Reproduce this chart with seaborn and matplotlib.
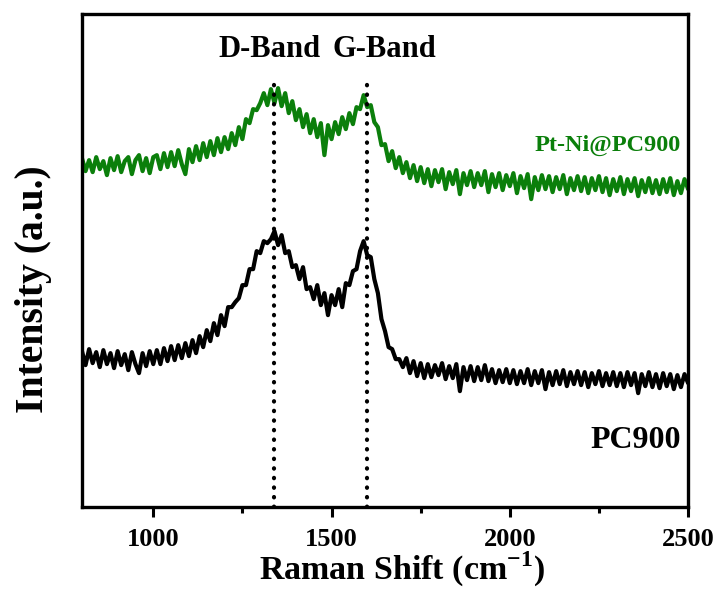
import numpy as np
import pandas as pd
import matplotlib
matplotlib.use('Agg')
import matplotlib.pyplot as plt
import seaborn as sns
from matplotlib.ticker import MultipleLocator, NullLocator

# Raman shift grid (cm-1), one reading every 10 cm-1
shift = np.arange(800, 2510, 10)

# Pt-Ni@PC900 (green), arbitrary units
ptni = [349, 336, 347, 335, 350, 338, 346, 332, 349, 337, 351, 335, 346, 350, 333, 347, 352, 336, 349, 334, 350,
        352, 338, 354, 340, 355, 341, 357, 343, 333, 358,
        345, 361, 347, 364, 350, 366, 352, 369, 355, 370,
        358, 374, 362, 380, 368, 388, 384, 398, 397, 404,
        414, 402, 418, 404, 419, 401, 414, 394, 406, 387,
        398, 380, 393, 374, 388, 370, 384, 352, 382, 368,
        385, 373, 390, 378, 394, 383, 400, 398, 412, 400,
        402, 385, 380, 362, 363, 346, 356, 339, 350, 334,
        345, 329, 342, 326, 340, 324, 338, 321, 337, 325,
        338, 318, 335, 323, 337, 313, 334, 322, 336, 320,
        334, 322, 336, 315, 333, 320, 334, 317, 332, 321,
        334, 314, 331, 319, 333, 308, 330, 317, 332, 318,
        331, 315, 330, 318, 332, 313, 329, 317, 331, 316,
        330, 314, 329, 317, 331, 315, 329, 312, 328, 316,
        330, 313, 328, 316, 329, 311, 327, 315, 329, 314,
        327, 313, 328, 315, 329, 312, 326, 314, 328, 318]

# PC900 (black)
pc = [156, 142, 158, 144, 155, 140, 157, 143, 154, 139, 156, 142, 153, 137, 155, 143, 134, 154, 141, 156, 143,
      157, 143, 159, 146, 161, 147, 162, 149, 164, 151,
      167, 154, 171, 160, 177, 166, 184, 172, 192, 181,
      200, 200, 205, 209, 222, 222, 238, 238, 256, 254,
      266, 264, 268, 276, 262, 272, 254, 256, 240, 242,
      228, 240, 218, 220, 208, 222, 202, 214, 192, 212,
      202, 218, 200, 224, 222, 236, 238, 256, 266, 252,
      250, 228, 214, 188, 176, 160, 158, 148, 148, 140,
      149, 134, 146, 131, 144, 129, 143, 130, 142, 132,
      144, 128, 141, 129, 143, 116, 140, 127, 141, 126,
      140, 127, 142, 126, 138, 124, 137, 125, 138, 124,
      137, 123, 136, 124, 138, 122, 136, 124, 137, 118,
      135, 122, 136, 123, 137, 121, 135, 123, 136, 122,
      135, 120, 134, 123, 136, 121, 134, 122, 135, 121,
      134, 120, 135, 122, 134, 114, 133, 121, 135, 120,
      133, 119, 134, 121, 133, 118, 132, 120, 133, 124]

bands = [1340, 1600]
band_names = ['D-Band', 'G-Band']

df = pd.DataFrame({'shift': np.concatenate([shift, shift]),
                   'intensity': ptni + pc,
                   'sample': ['Pt-Ni@PC900'] * len(shift) + ['PC900'] * len(shift)})

sns.set_style('ticks', {'text.color': 'black', 'axes.edgecolor': 'black',
                        'axes.labelcolor': 'black', 'xtick.color': 'black'})
plt.rcParams['font.family'] = ['Liberation Serif', 'DejaVu Serif']
plt.rcParams['font.weight'] = 'bold'
plt.rcParams['mathtext.fontset'] = 'custom'
plt.rcParams['mathtext.rm'] = 'Liberation Serif:bold'
plt.rcParams['mathtext.bf'] = 'Liberation Serif:bold'

fig = plt.figure(figsize=(7.19, 5.89), dpi=100)
ax = fig.add_axes([0.114, 0.139, 0.843, 0.837])

green = '#0b7f0b'
sns.lineplot(data=df, x='shift', y='intensity', hue='sample',
             palette={'Pt-Ni@PC900': green, 'PC900': 'black'},
             linewidth=3.0, legend=False, ax=ax)

for b in bands:
    ax.plot([b, b], [0, 429], color='black', lw=3.0,
            linestyle=(0, (0.1, 2.2)), dash_capstyle='round')

ax.text(1325, 458, band_names[0], ha='center', va='center', fontsize=22, fontweight='bold')
ax.text(1647, 458, band_names[1], ha='center', va='center', fontsize=22, fontweight='bold')
ax.text(2480, 362, 'Pt-Ni@PC900', ha='right', va='center', fontsize=17.5,
        fontweight='bold', color=green)
ax.text(2480, 67, 'PC900', ha='right', va='center', fontsize=23, fontweight='bold')

ax.set_xlim(800, 2500)
ax.set_ylim(0, 493)
ax.xaxis.set_major_locator(MultipleLocator(500))
ax.xaxis.set_minor_locator(MultipleLocator(250))
ax.yaxis.set_major_locator(NullLocator())
ax.tick_params(axis='x', which='major', direction='out', length=7, width=2.2,
               labelsize=19, pad=8)
ax.tick_params(axis='x', which='minor', direction='out', length=4.5, width=2.2)
for lab in ax.get_xticklabels():
    lab.set_fontweight('bold')
for sp in ax.spines.values():
    sp.set_linewidth(2.4)
    sp.set_visible(True)

ax.set_xlabel('Raman Shift (cm$^{-1}$)', fontsize=24.5, fontweight='bold')
ax.xaxis.set_label_coords(0.528, -0.086)
ax.set_ylabel('Intensity (a.u.)', fontsize=28.5, fontweight='bold')
ax.yaxis.set_label_coords(-0.05, 0.442)

fig.savefig('out.png', dpi=100)
